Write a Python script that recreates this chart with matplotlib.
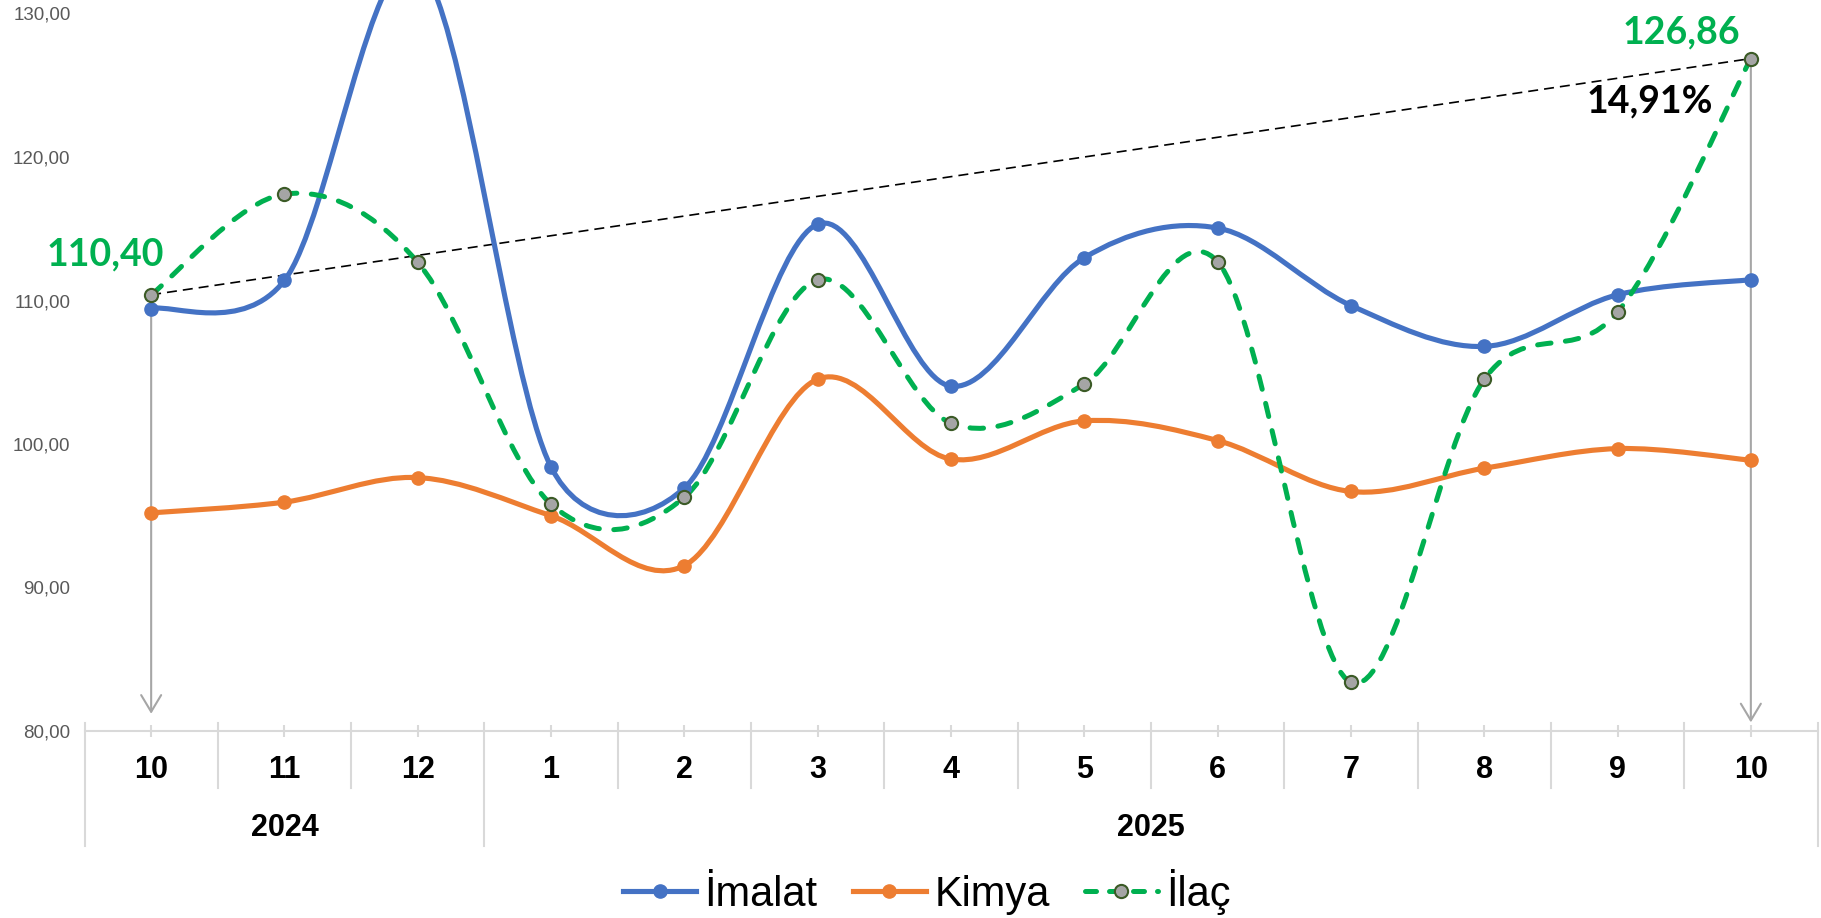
import numpy as np
import matplotlib
matplotlib.use("Agg")
import matplotlib.pyplot as plt
from matplotlib.path import Path
from matplotlib.patches import PathPatch
from matplotlib.lines import Line2D
import matplotlib.transforms as mtransforms

# data
months = ['10', '11', '12', '1', '2', '3', '4', '5', '6', '7', '8', '9', '10']
years = ['2024', '2025']
year_spans = [(0, 2), (3, 12)]
imalat = [109.44, 111.4, 133.4, 98.39, 96.94, 115.32, 104.03, 112.98, 115.05, 109.65, 106.8, 110.4, 111.45]
kimya = [95.2, 95.95, 97.66, 95.0, 91.53, 104.52, 98.95, 101.61, 100.24, 96.69, 98.31, 99.68, 98.87]
ilac = [110.40, 117.42, 112.66, 95.81, 96.29, 111.45, 101.45, 104.19, 112.7, 83.39, 104.5, 109.19, 126.86]
yticks = [80, 90, 100, 110, 120, 130]

blue = '#4472C4'
orange = '#ED7D31'
green = '#00B050'
grid_gray = '#D9D9D9'


def smooth_path(ax, x, y):
    # excel style smoothed line: bezier segments, control arms limited in screen space
    pts = np.column_stack([x, y]).astype(float)
    scr = ax.transData.transform(pts)
    n = len(pts)
    verts = [pts[0]]
    codes = [Path.MOVETO]
    for i in range(n - 1):
        i0 = max(i - 1, 0)
        i3 = min(i + 2, n - 1)
        d02 = np.hypot(*(scr[i + 1] - scr[i0]))
        d13 = np.hypot(*(scr[i3] - scr[i]))
        d12 = np.hypot(*(scr[i + 1] - scr[i]))
        f1 = 1 / 6.0
        f2 = 1 / 6.0
        if d02 / 6.0 >= d12 / 2.0 and d02 > 0:
            f1 = d12 / d02 / 2.0
        if d13 / 6.0 >= d12 / 2.0 and d13 > 0:
            f2 = d12 / d13 / 2.0
        c1 = pts[i] + (pts[i + 1] - pts[i0]) * f1
        c2 = pts[i + 1] - (pts[i3] - pts[i]) * f2
        verts += [c1, c2, pts[i + 1]]
        codes += [Path.CURVE4] * 3
    return Path(verts, codes)


fig = plt.figure(figsize=(18.21, 9.18), dpi=100)
ax = fig.add_axes([84.5 / 1821, 187 / 918, 1733 / 1821, 731 / 918])
x = np.arange(len(months))
ax.set_xlim(-0.5, len(months) - 0.5)
ax.set_ylim(80, 80 + 731 / 14.35)

# arrows down from first and last ilac values
ax.annotate('', xy=(x[0], 81.2), xytext=(x[0], ilac[0]),
            arrowprops=dict(arrowstyle='->,head_length=0.6,head_width=0.36', color='#A6A6A6',
                            lw=1.5, shrinkA=0, shrinkB=0, mutation_scale=20), zorder=1)
ax.annotate('', xy=(x[-1], 80.6), xytext=(x[-1], ilac[-1]),
            arrowprops=dict(arrowstyle='->,head_length=0.6,head_width=0.36', color='#A6A6A6',
                            lw=1.5, shrinkA=0, shrinkB=0, mutation_scale=20), zorder=1)

# trend line between first and last ilac
ax.plot([x[0], x[-1]], [ilac[0], ilac[-1]], color='black', lw=1.2, dashes=(6, 3.6), zorder=2)

# smoothed series
ax.add_patch(PathPatch(smooth_path(ax, x, kimya), fill=False, edgecolor=orange, lw=3.7,
                       capstyle='round', joinstyle='round', zorder=3))
ax.add_patch(PathPatch(smooth_path(ax, x, imalat), fill=False, edgecolor=blue, lw=3.7,
                       capstyle='round', joinstyle='round', zorder=4))
ax.add_patch(PathPatch(smooth_path(ax, x, ilac), fill=False, edgecolor=green, lw=3.6,
                       linestyle=(0, (2.7, 2.9)), capstyle='round', joinstyle='round', zorder=5))

ax.plot(x, kimya, 'o', color=orange, ms=9.5, zorder=6)
ax.plot(x, imalat, 'o', color=blue, ms=9.5, zorder=6)
ax.plot(x, ilac, 'o', mfc='#A5A5A5', mec='#3B5A26', mew=1.5, ms=9.5, zorder=7)

# value labels
ax.annotate('110,40', xy=(x[0], ilac[0]), xytext=(-33, 29), textcoords='offset points',
            ha='center', va='center', fontsize=27, fontweight='bold', color=green,
            family=['Lato', 'DejaVu Sans'])
ax.annotate('126,86', xy=(x[-1], ilac[-1]), xytext=(-50, 19), textcoords='offset points',
            ha='center', va='center', fontsize=27, fontweight='bold', color=green,
            family=['Lato', 'DejaVu Sans'])
pct = (ilac[-1] / ilac[0] - 1) * 100
ax.annotate(('%.2f%%' % pct).replace('.', ','), xy=(x[-1], ilac[-1]), xytext=(-73, -31),
            textcoords='offset points', ha='center', va='center', fontsize=27,
            fontweight='bold', color='black', family=['Lato', 'DejaVu Sans'])

# axes styling
for s in ['top', 'right', 'left']:
    ax.spines[s].set_visible(False)
ax.spines['bottom'].set_color(grid_gray)
ax.spines['bottom'].set_linewidth(1.5)
ax.set_xticks(x)
ax.set_xticklabels([])
ax.tick_params(axis='x', direction='inout', length=9, width=1.5, color=grid_gray)
ax.set_yticks(yticks)
ax.set_yticklabels(['%d,00' % v for v in yticks], color='#595959', fontsize=13.5,
                   family='Liberation Sans')
ax.tick_params(axis='y', length=0, pad=10)

# two level category axis
trans = mtransforms.blended_transform_factory(ax.transData, ax.transAxes)
for b in np.arange(-0.5, len(months), 1.0):
    long_sep = b in (-0.5, year_spans[0][1] + 0.5, len(months) - 0.5)
    ax.plot([b, b], [0.011, -0.157 if long_sep else -0.078], color=grid_gray, lw=1.5,
            transform=trans, clip_on=False)
for i, m in enumerate(months):
    ax.text(x[i], -0.053, m, transform=trans, ha='center', va='center', fontsize=22,
            fontweight='bold', family='Liberation Sans')
for yr, (a, b) in zip(years, year_spans):
    ax.text((a + b) / 2, -0.133, yr, transform=trans, ha='center', va='center', fontsize=22,
            fontweight='bold', family='Liberation Sans')

# legend
handles = [Line2D([], [], color=blue, lw=3.7, marker='o', ms=9.5),
           Line2D([], [], color=orange, lw=3.7, marker='o', ms=9.5),
           Line2D([], [], color=green, lw=3.6, dashes=(2.2, 2.6), dash_capstyle='round',
                  marker='o', mfc='#A5A5A5', mec='#3B5A26', mew=1.5, ms=9.5)]
fig.legend(handles, ['İmalat', 'Kimya', 'İlaç'], loc='center', bbox_to_anchor=(927 / 1821, 1 - 892 / 918),
           ncol=3, frameon=False, numpoints=1, handlelength=1.75, handletextpad=0.2,
           columnspacing=0.85, prop={'family': 'Liberation Sans', 'size': 30})

plt.savefig('out.png', dpi=100)
